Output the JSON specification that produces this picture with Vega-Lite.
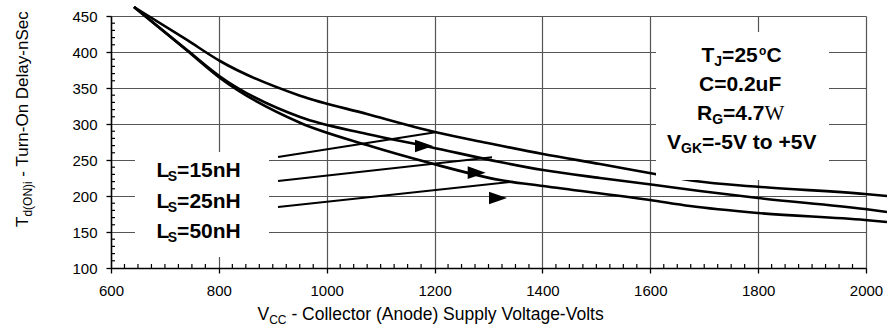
{
  "$schema": "https://vega.github.io/schema/vega-lite/v6.json",
  "width": 755,
  "height": 252,
  "autosize": "none",
  "padding": {"left": 111, "top": 16, "right": 21, "bottom": 65},
  "background": "white",
  "config": {
    "font": "Liberation Sans",
    "view": {"stroke": null},
    "axis": {"gridColor": "#555", "gridWidth": 1.2, "gridOpacity": 1, "domainColor": "black", "domainWidth": 1.5,
      "tickColor": "black", "tickWidth": 1.3, "tickSize": 5, "labelFontSize": 15, "labelColor": "black", "labelFlush": false, "labelFont": "Liberation Sans"},
    "axisX": {"labelPadding": 10},
    "axisY": {"labelPadding": 9}
  },
  "datasets": {
    "curves": [
      {"series": "a", "vcc": 642.6, "t": 462.5}, {"series": "a", "vcc": 740.9, "t": 416.7}, {"series": "a", "vcc": 802.1, "t": 387.5},
      {"series": "a", "vcc": 950.5, "t": 339.3}, {"series": "a", "vcc": 1074.7, "t": 313.9}, {"series": "a", "vcc": 1200.8, "t": 288.9},
      {"series": "a", "vcc": 1302.8, "t": 272.9}, {"series": "a", "vcc": 1401.1, "t": 258.3}, {"series": "a", "vcc": 1506.7, "t": 244.4},
      {"series": "a", "vcc": 1608.7, "t": 230.6}, {"series": "a", "vcc": 1682.9, "t": 220.8}, {"series": "a", "vcc": 1799.7, "t": 212.9},
      {"series": "a", "vcc": 1998.1, "t": 202.8}, {"series": "a", "vcc": 2038.9, "t": 200.0},
      {"series": "b", "vcc": 642.6, "t": 462.5}, {"series": "b", "vcc": 740.9, "t": 402.8}, {"series": "b", "vcc": 802.1, "t": 366.0},
      {"series": "b", "vcc": 950.5, "t": 309.7}, {"series": "b", "vcc": 1074.7, "t": 286.1}, {"series": "b", "vcc": 1191.5, "t": 268.1},
      {"series": "b", "vcc": 1321.3, "t": 247.2}, {"series": "b", "vcc": 1401.1, "t": 236.1}, {"series": "b", "vcc": 1506.7, "t": 225.0},
      {"series": "b", "vcc": 1608.7, "t": 215.3}, {"series": "b", "vcc": 1692.1, "t": 206.9}, {"series": "b", "vcc": 1799.7, "t": 197.2},
      {"series": "b", "vcc": 1998.1, "t": 181.9}, {"series": "b", "vcc": 2038.9, "t": 177.8},
      {"series": "c", "vcc": 642.6, "t": 462.5}, {"series": "c", "vcc": 740.9, "t": 402.0}, {"series": "c", "vcc": 802.1, "t": 363.9},
      {"series": "c", "vcc": 950.5, "t": 301.8}, {"series": "c", "vcc": 1074.7, "t": 270.8}, {"series": "c", "vcc": 1191.5, "t": 245.8},
      {"series": "c", "vcc": 1321.3, "t": 222.2}, {"series": "c", "vcc": 1401.1, "t": 213.9}, {"series": "c", "vcc": 1599.4, "t": 194.4},
      {"series": "c", "vcc": 1673.6, "t": 186.1}, {"series": "c", "vcc": 1799.7, "t": 176.4}, {"series": "c", "vcc": 1998.1, "t": 166.7},
      {"series": "c", "vcc": 2038.9, "t": 163.9}
    ],
    "minorx": [
      {"vcc": 625}, {"vcc": 650}, {"vcc": 675}, {"vcc": 700}, {"vcc": 725}, {"vcc": 750}, {"vcc": 775},
      {"vcc": 825}, {"vcc": 850}, {"vcc": 875}, {"vcc": 900}, {"vcc": 925}, {"vcc": 950}, {"vcc": 975},
      {"vcc": 1025}, {"vcc": 1050}, {"vcc": 1075}, {"vcc": 1100}, {"vcc": 1125}, {"vcc": 1150}, {"vcc": 1175},
      {"vcc": 1225}, {"vcc": 1250}, {"vcc": 1275}, {"vcc": 1300}, {"vcc": 1325}, {"vcc": 1350}, {"vcc": 1375},
      {"vcc": 1425}, {"vcc": 1450}, {"vcc": 1475}, {"vcc": 1500}, {"vcc": 1525}, {"vcc": 1550}, {"vcc": 1575},
      {"vcc": 1625}, {"vcc": 1650}, {"vcc": 1675}, {"vcc": 1700}, {"vcc": 1725}, {"vcc": 1750}, {"vcc": 1775},
      {"vcc": 1825}, {"vcc": 1850}, {"vcc": 1875}, {"vcc": 1900}, {"vcc": 1925}, {"vcc": 1950}, {"vcc": 1975}
    ],
    "minory": [
      {"t": 110}, {"t": 120}, {"t": 130}, {"t": 140}, {"t": 160}, {"t": 170}, {"t": 180}, {"t": 190},
      {"t": 210}, {"t": 220}, {"t": 230}, {"t": 240}, {"t": 260}, {"t": 270}, {"t": 280}, {"t": 290},
      {"t": 310}, {"t": 320}, {"t": 330}, {"t": 340}, {"t": 360}, {"t": 370}, {"t": 380}, {"t": 390},
      {"t": 410}, {"t": 420}, {"t": 430}, {"t": 440}
    ],
    "boxes": [
      {"vcc": 644.5, "vcc2": 893, "t": 115.3, "t2": 261.1},
      {"vcc": 1610.6, "vcc2": 1931.4, "t": 222.2, "t2": 427.8}
    ],
    "arrows": [
      {"vcc": 909.7, "t": 254.2, "vcc2": 1204.5, "t2": 288.9},
      {"vcc": 909.7, "t": 220.8, "vcc2": 1306.5, "t2": 253.75},
      {"vcc": 909.7, "t": 184.7, "vcc2": 1345.4, "t2": 219.9}
    ],
    "heads": [
      {"vcc": 1180.4, "t": 269.4},
      {"vcc": 1278.1, "t": 232.4},
      {"vcc": 1317.6, "t": 197.2}
    ],
    "labels": [
      {"text": "L", "vcc": 684.4, "t": 226.4, "role": "b"},
      {"text": "S", "vcc": 705.4, "t": 220.8, "role": "bs"},
      {"text": "=15nH", "vcc": 722.6, "t": 226.4, "role": "b"},
      {"text": "L", "vcc": 684.4, "t": 183.3, "role": "b"},
      {"text": "S", "vcc": 705.4, "t": 177.8, "role": "bs"},
      {"text": "=25nH", "vcc": 722.6, "t": 183.3, "role": "b"},
      {"text": "L", "vcc": 684.4, "t": 141.7, "role": "b"},
      {"text": "S", "vcc": 705.4, "t": 136.1, "role": "bs"},
      {"text": "=50nH", "vcc": 722.6, "t": 141.7, "role": "b"},
      {"text": "T", "vcc": 1695.0, "t": 386.1, "role": "b"},
      {"text": "J", "vcc": 1718.7, "t": 380.6, "role": "bs"},
      {"text": "=25", "vcc": 1733.2, "t": 386.1, "role": "b"},
      {"text": "o", "vcc": 1801.5, "t": 396.5, "role": "bsup"},
      {"text": "C", "vcc": 1815.5, "t": 386.1, "role": "b"},
      {"text": "C=0.2uF", "vcc": 1690.3, "t": 345.8, "role": "b"},
      {"text": "R", "vcc": 1686.6, "t": 305.6, "role": "b"},
      {"text": "G", "vcc": 1714.8, "t": 300.0, "role": "bs"},
      {"text": "=4.7", "vcc": 1735.0, "t": 305.6, "role": "b"},
      {"text": "W", "vcc": 1812.0, "t": 305.6, "role": "serif"},
      {"text": "V", "vcc": 1631.0, "t": 265.3, "role": "b"},
      {"text": "GK", "vcc": 1657.0, "t": 259.7, "role": "bs"},
      {"text": "=-5V to +5V", "vcc": 1695.9, "t": 265.3, "role": "b"},
      {"text": "V", "vcc": 871.7, "t": 27.8, "role": "t"},
      {"text": "CC", "vcc": 893.3, "t": 22.9, "role": "ts"},
      {"text": "- Collector (Anode) Supply Voltage-Volts", "vcc": 934.5, "t": 27.8, "role": "t"},
      {"text": "T", "vcc": 446.1, "t": 156.9, "role": "y"},
      {"text": "d(ON)i", "vcc": 452.6, "t": 171.4, "role": "ys"},
      {"text": "- Turn-On Delay-nSec", "vcc": 446.1, "t": 226.9, "role": "y"}
    ]
  },
  "layer": [
    {
      "data": {"name": "curves"},
      "mark": {"type": "line", "interpolate": "monotone", "stroke": "black", "strokeWidth": 2.6, "clip": false},
      "encoding": {
        "x": {"field": "vcc", "type": "quantitative", "scale": {"domain": [600, 2000], "nice": false, "zero": false},
          "axis": {"orient": "bottom", "values": [600, 800, 1000, 1200, 1400, 1600, 1800, 2000], "format": "d", "title": null, "grid": true}},
        "y": {"field": "t", "type": "quantitative", "scale": {"domain": [100, 450], "nice": false, "zero": false},
          "axis": {"orient": "left", "values": [100, 150, 200, 250, 300, 350, 400, 450], "format": "d", "title": null, "grid": true}},
        "detail": {"field": "series"}
      }
    },
    {
      "data": {"name": "minorx"},
      "mark": {"type": "rule", "stroke": "black", "strokeWidth": 1.2},
      "encoding": {
        "x": {"field": "vcc", "type": "quantitative", "scale": {"domain": [600, 2000], "nice": false, "zero": false},
          "axis": {"orient": "bottom", "values": [600, 800, 1000, 1200, 1400, 1600, 1800, 2000], "format": "d", "title": null, "grid": true}},
        "y": {"datum": 100, "type": "quantitative", "scale": {"domain": [100, 450], "nice": false, "zero": false},
          "axis": {"orient": "left", "values": [100, 150, 200, 250, 300, 350, 400, 450], "format": "d", "title": null, "grid": true}},
        "y2": {"datum": 105.6}
      }
    },
    {
      "data": {"name": "minory"},
      "mark": {"type": "rule", "stroke": "black", "strokeWidth": 1.2},
      "encoding": {
        "y": {"field": "t", "type": "quantitative", "scale": {"domain": [100, 450], "nice": false, "zero": false},
          "axis": {"orient": "left", "values": [100, 150, 200, 250, 300, 350, 400, 450], "format": "d", "title": null, "grid": true}},
        "x": {"datum": 600, "type": "quantitative", "scale": {"domain": [600, 2000], "nice": false, "zero": false},
          "axis": {"orient": "bottom", "values": [600, 800, 1000, 1200, 1400, 1600, 1800, 2000], "format": "d", "title": null, "grid": true}},
        "x2": {"datum": 607.4}
      }
    },
    {
      "data": {"name": "boxes"},
      "mark": {"type": "rect", "fill": "white", "stroke": null},
      "encoding": {
        "x": {"field": "vcc", "type": "quantitative", "scale": {"domain": [600, 2000], "nice": false, "zero": false},
          "axis": {"orient": "bottom", "values": [600, 800, 1000, 1200, 1400, 1600, 1800, 2000], "format": "d", "title": null, "grid": true}},
        "x2": {"field": "vcc2"},
        "y": {"field": "t", "type": "quantitative", "scale": {"domain": [100, 450], "nice": false, "zero": false},
          "axis": {"orient": "left", "values": [100, 150, 200, 250, 300, 350, 400, 450], "format": "d", "title": null, "grid": true}},
        "y2": {"field": "t2"}
      }
    },
    {
      "data": {"name": "arrows"},
      "mark": {"type": "rule", "stroke": "black", "strokeWidth": 2},
      "encoding": {
        "x": {"field": "vcc", "type": "quantitative", "scale": {"domain": [600, 2000], "nice": false, "zero": false},
          "axis": {"orient": "bottom", "values": [600, 800, 1000, 1200, 1400, 1600, 1800, 2000], "format": "d", "title": null, "grid": true}},
        "x2": {"field": "vcc2"},
        "y": {"field": "t", "type": "quantitative", "scale": {"domain": [100, 450], "nice": false, "zero": false},
          "axis": {"orient": "left", "values": [100, 150, 200, 250, 300, 350, 400, 450], "format": "d", "title": null, "grid": true}},
        "y2": {"field": "t2"}
      }
    },
    {
      "data": {"name": "heads"},
      "mark": {"type": "point", "shape": "M-1,-0.7L1,0L-1,0.7Z", "filled": true, "color": "black", "opacity": 1, "size": 324},
      "encoding": {
        "x": {"field": "vcc", "type": "quantitative", "scale": {"domain": [600, 2000], "nice": false, "zero": false},
          "axis": {"orient": "bottom", "values": [600, 800, 1000, 1200, 1400, 1600, 1800, 2000], "format": "d", "title": null, "grid": true}},
        "y": {"field": "t", "type": "quantitative", "scale": {"domain": [100, 450], "nice": false, "zero": false},
          "axis": {"orient": "left", "values": [100, 150, 200, 250, 300, 350, 400, 450], "format": "d", "title": null, "grid": true}}
      }
    },
    {
      "data": {"name": "labels"},
      "transform": [{"filter": "datum.role === 'b'"}],
      "mark": {"type": "text", "align": "left", "baseline": "alphabetic", "fontSize": 21, "fontWeight": "bold", "color": "black", "font": "Liberation Sans"},
      "encoding": {
        "x": {"field": "vcc", "type": "quantitative", "scale": {"domain": [600, 2000], "nice": false, "zero": false},
          "axis": {"orient": "bottom", "values": [600, 800, 1000, 1200, 1400, 1600, 1800, 2000], "format": "d", "title": null, "grid": true}},
        "y": {"field": "t", "type": "quantitative", "scale": {"domain": [100, 450], "nice": false, "zero": false},
          "axis": {"orient": "left", "values": [100, 150, 200, 250, 300, 350, 400, 450], "format": "d", "title": null, "grid": true}},
        "text": {"field": "text"}
      }
    },
    {
      "data": {"name": "labels"},
      "transform": [{"filter": "datum.role === 'bs'"}],
      "mark": {"type": "text", "align": "left", "baseline": "alphabetic", "fontSize": 14, "fontWeight": "bold", "color": "black", "font": "Liberation Sans"},
      "encoding": {
        "x": {"field": "vcc", "type": "quantitative", "scale": {"domain": [600, 2000], "nice": false, "zero": false},
          "axis": {"orient": "bottom", "values": [600, 800, 1000, 1200, 1400, 1600, 1800, 2000], "format": "d", "title": null, "grid": true}},
        "y": {"field": "t", "type": "quantitative", "scale": {"domain": [100, 450], "nice": false, "zero": false},
          "axis": {"orient": "left", "values": [100, 150, 200, 250, 300, 350, 400, 450], "format": "d", "title": null, "grid": true}},
        "text": {"field": "text"}
      }
    },
    {
      "data": {"name": "labels"},
      "transform": [{"filter": "datum.role === 'bsup'"}],
      "mark": {"type": "text", "align": "left", "baseline": "alphabetic", "fontSize": 12, "fontWeight": "bold", "color": "black", "font": "Liberation Sans"},
      "encoding": {
        "x": {"field": "vcc", "type": "quantitative", "scale": {"domain": [600, 2000], "nice": false, "zero": false},
          "axis": {"orient": "bottom", "values": [600, 800, 1000, 1200, 1400, 1600, 1800, 2000], "format": "d", "title": null, "grid": true}},
        "y": {"field": "t", "type": "quantitative", "scale": {"domain": [100, 450], "nice": false, "zero": false},
          "axis": {"orient": "left", "values": [100, 150, 200, 250, 300, 350, 400, 450], "format": "d", "title": null, "grid": true}},
        "text": {"field": "text"}
      }
    },
    {
      "data": {"name": "labels"},
      "transform": [{"filter": "datum.role === 'serif'"}],
      "mark": {"type": "text", "align": "left", "baseline": "alphabetic", "fontSize": 21, "fontWeight": "normal", "color": "black", "font": "Liberation Serif"},
      "encoding": {
        "x": {"field": "vcc", "type": "quantitative", "scale": {"domain": [600, 2000], "nice": false, "zero": false},
          "axis": {"orient": "bottom", "values": [600, 800, 1000, 1200, 1400, 1600, 1800, 2000], "format": "d", "title": null, "grid": true}},
        "y": {"field": "t", "type": "quantitative", "scale": {"domain": [100, 450], "nice": false, "zero": false},
          "axis": {"orient": "left", "values": [100, 150, 200, 250, 300, 350, 400, 450], "format": "d", "title": null, "grid": true}},
        "text": {"field": "text"}
      }
    },
    {
      "data": {"name": "labels"},
      "transform": [{"filter": "datum.role === 't'"}],
      "mark": {"type": "text", "align": "left", "baseline": "alphabetic", "fontSize": 17.5, "color": "black", "font": "Liberation Sans"},
      "encoding": {
        "x": {"field": "vcc", "type": "quantitative", "scale": {"domain": [600, 2000], "nice": false, "zero": false},
          "axis": {"orient": "bottom", "values": [600, 800, 1000, 1200, 1400, 1600, 1800, 2000], "format": "d", "title": null, "grid": true}},
        "y": {"field": "t", "type": "quantitative", "scale": {"domain": [100, 450], "nice": false, "zero": false},
          "axis": {"orient": "left", "values": [100, 150, 200, 250, 300, 350, 400, 450], "format": "d", "title": null, "grid": true}},
        "text": {"field": "text"}
      }
    },
    {
      "data": {"name": "labels"},
      "transform": [{"filter": "datum.role === 'ts'"}],
      "mark": {"type": "text", "align": "left", "baseline": "alphabetic", "fontSize": 12, "color": "black", "font": "Liberation Sans"},
      "encoding": {
        "x": {"field": "vcc", "type": "quantitative", "scale": {"domain": [600, 2000], "nice": false, "zero": false},
          "axis": {"orient": "bottom", "values": [600, 800, 1000, 1200, 1400, 1600, 1800, 2000], "format": "d", "title": null, "grid": true}},
        "y": {"field": "t", "type": "quantitative", "scale": {"domain": [100, 450], "nice": false, "zero": false},
          "axis": {"orient": "left", "values": [100, 150, 200, 250, 300, 350, 400, 450], "format": "d", "title": null, "grid": true}},
        "text": {"field": "text"}
      }
    },
    {
      "data": {"name": "labels"},
      "transform": [{"filter": "datum.role === 'y'"}],
      "mark": {"type": "text", "align": "left", "baseline": "alphabetic", "fontSize": 17, "angle": 270, "color": "black", "font": "Liberation Sans"},
      "encoding": {
        "x": {"field": "vcc", "type": "quantitative", "scale": {"domain": [600, 2000], "nice": false, "zero": false},
          "axis": {"orient": "bottom", "values": [600, 800, 1000, 1200, 1400, 1600, 1800, 2000], "format": "d", "title": null, "grid": true}},
        "y": {"field": "t", "type": "quantitative", "scale": {"domain": [100, 450], "nice": false, "zero": false},
          "axis": {"orient": "left", "values": [100, 150, 200, 250, 300, 350, 400, 450], "format": "d", "title": null, "grid": true}},
        "text": {"field": "text"}
      }
    },
    {
      "data": {"name": "labels"},
      "transform": [{"filter": "datum.role === 'ys'"}],
      "mark": {"type": "text", "align": "left", "baseline": "alphabetic", "fontSize": 12, "angle": 270, "color": "black", "font": "Liberation Sans"},
      "encoding": {
        "x": {"field": "vcc", "type": "quantitative", "scale": {"domain": [600, 2000], "nice": false, "zero": false},
          "axis": {"orient": "bottom", "values": [600, 800, 1000, 1200, 1400, 1600, 1800, 2000], "format": "d", "title": null, "grid": true}},
        "y": {"field": "t", "type": "quantitative", "scale": {"domain": [100, 450], "nice": false, "zero": false},
          "axis": {"orient": "left", "values": [100, 150, 200, 250, 300, 350, 400, 450], "format": "d", "title": null, "grid": true}},
        "text": {"field": "text"}
      }
    }
  ]
}
